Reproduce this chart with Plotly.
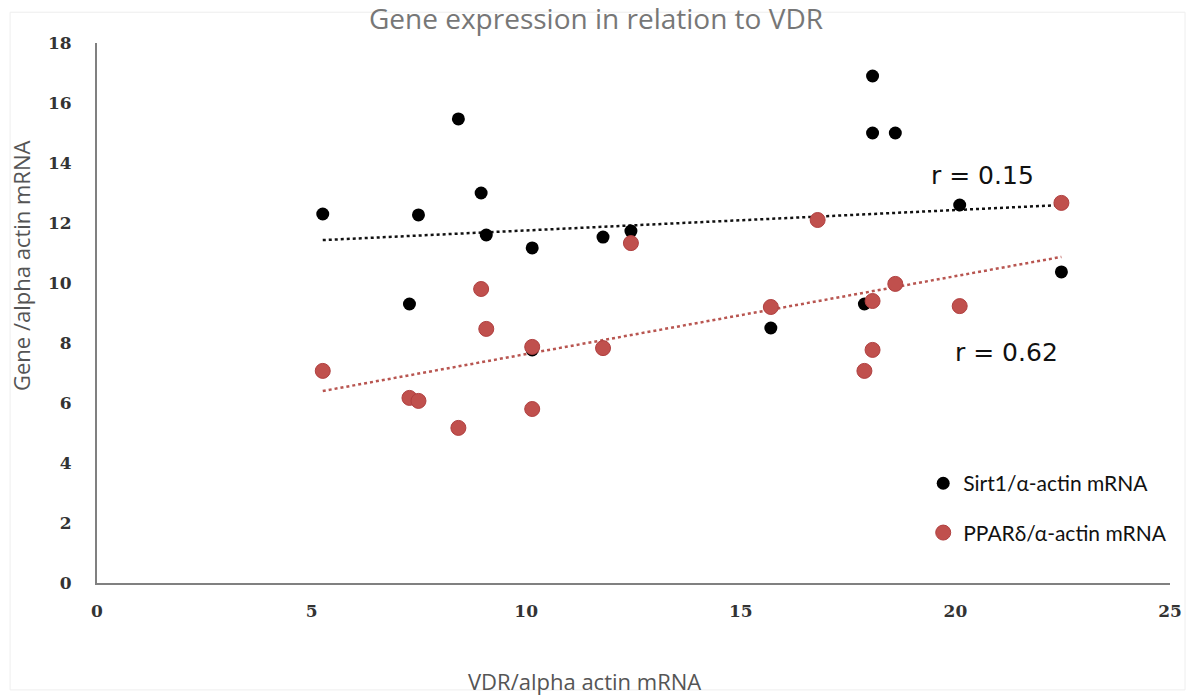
import plotly.graph_objects as go

vdr = [5.26, 7.28, 7.49, 8.42, 8.95, 9.07, 10.14, 10.14, 11.79, 12.44,
       15.7, 16.79, 17.88, 18.07, 18.07, 18.6, 20.1, 22.47]
sirt1 = [12.3, 9.3, 12.27, 15.47, 13.0, 11.6, 11.17, 7.77, 11.53, 11.73,
         8.5, 12.1, 9.3, 16.9, 15.0, 15.0, 12.6, 10.37]
ppard = [7.07, 6.17, 6.07, 5.17, 9.8, 8.47, 7.87, 5.8, 7.83, 11.33,
         9.2, 12.1, 7.07, 9.4, 7.77, 9.97, 9.23, 12.67]

# Trendline endpoints
trend_x = [5.26, 22.47]
trend_sirt1 = [11.43, 12.6]
trend_ppard = [6.4, 10.87]

x_ticks = [0, 5, 10, 15, 20, 25]
y_ticks = [0, 2, 4, 6, 8, 10, 12, 14, 16, 18]

BLACK = "#000000"
RED = "#C0504D"

fig = go.Figure()
fig.add_trace(go.Scatter(x=trend_x, y=trend_sirt1, mode="lines",
                         line=dict(color="#111111", width=2.5, dash="dot"),
                         showlegend=False, hoverinfo="skip"))
fig.add_trace(go.Scatter(x=trend_x, y=trend_ppard, mode="lines",
                         line=dict(color="#B85550", width=2.5, dash="dot"),
                         showlegend=False, hoverinfo="skip"))
fig.add_trace(go.Scatter(x=vdr, y=sirt1, mode="markers", name="Sirt1/α-actin mRNA",
                         legendgroup="a",
                         marker=dict(color=BLACK, size=13)))
fig.add_trace(go.Scatter(x=vdr, y=ppard, mode="markers", name="PPARδ/α-actin mRNA",
                         legendgroup="b",
                         marker=dict(color=RED, size=15, line=dict(color="#B04040", width=1))))

tickfont = dict(family="DejaVu Serif", size=17, color="#333333", weight="bold")
axtitlefont = dict(family="Open Sans", size=22, color="#555555")

fig.update_layout(
    width=1192, height=697, autosize=False,
    margin=dict(l=97, r=22, t=43, b=114),
    paper_bgcolor="white", plot_bgcolor="white",
    title=dict(text="Gene expression in relation to VDR", x=0.5, xanchor="center",
               y=0.972, yanchor="middle", automargin=False,
               font=dict(family="Open Sans", size=28, color="#777777")),
    xaxis=dict(range=[0, 25], tickvals=x_ticks, showgrid=False, zeroline=False,
               showline=True, linecolor="#808080", linewidth=2, automargin=False,
               ticks="", ticklabelstandoff=12, tickfont=tickfont),
    yaxis=dict(range=[0, 18], tickvals=y_ticks, showgrid=False, zeroline=False,
               showline=True, linecolor="#808080", linewidth=2, automargin=False,
               ticks="", ticklabelstandoff=20, tickfont=tickfont),
    legend=dict(x=0.770, y=0.222, xanchor="left", yanchor="top",
                traceorder="grouped", tracegroupgap=19,
                font=dict(family="Lato", size=21, color="#111111"),
                bgcolor="rgba(0,0,0,0)", itemwidth=30),
    showlegend=True,
)

# Axis titles
fig.add_annotation(x=0.454, y=0, xref="paper", yref="paper", yshift=-98,
                   xanchor="center", yanchor="middle",
                   text="VDR/alpha actin mRNA", showarrow=False, font=axtitlefont)
fig.add_annotation(x=0, y=0.587, xref="paper", yref="paper", xshift=-76,
                   xanchor="center", yanchor="middle",
                   text="Gene /alpha actin mRNA", showarrow=False, textangle=-90,
                   font=axtitlefont)

# Correlation labels
fig.add_annotation(x=20.64, y=13.6, xref="x", yref="y", text="r = 0.15", showarrow=False,
                   font=dict(family="DejaVu Sans", size=25, color="#111111"))
fig.add_annotation(x=21.18, y=7.7, xref="x", yref="y", text="r = 0.62", showarrow=False,
                   font=dict(family="DejaVu Sans", size=25, color="#111111"))

# Faint chart border
fig.add_shape(type="rect", xref="paper", yref="paper",
              x0=-0.081, x1=1.014, y0=-0.198, y1=1.057,
              line=dict(color="#eeeeee", width=1), layer="below")

fig.write_html(
    "out.html",
    config={"displayModeBar": False},
    post_script="document.body.style.margin='0px';document.body.style.overflow='hidden';",
)
